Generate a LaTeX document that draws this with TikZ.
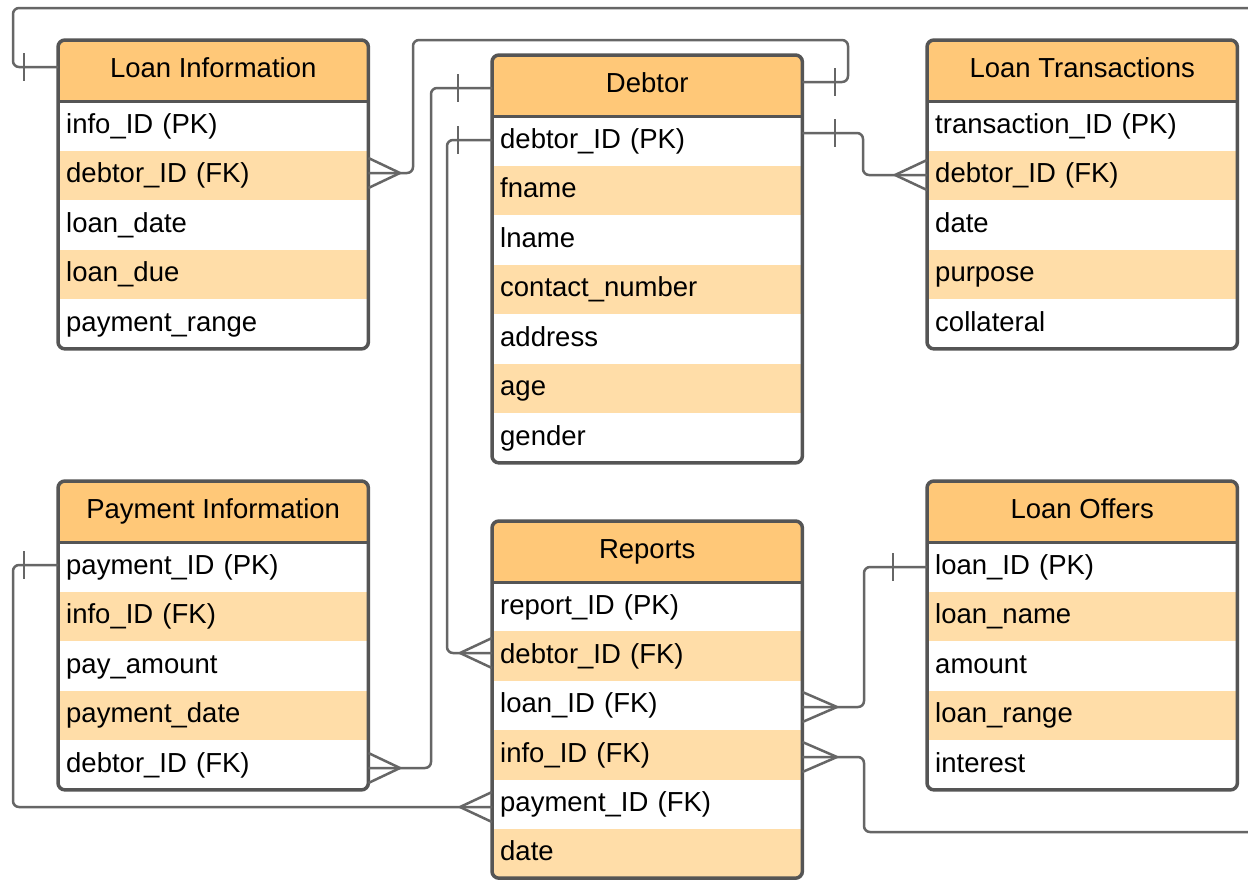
\documentclass[tikz,border=0pt]{standalone}
\usepackage{fontspec}
\setmainfont{Liberation Sans}
\usetikzlibrary{calc,backgrounds}
\definecolor{hdrc}{HTML}{FFC878}
\definecolor{rowlt}{HTML}{FFDDA8}
\definecolor{bordc}{HTML}{555555}
\definecolor{connc}{HTML}{666666}
\tikzset{
  hdr/.style={minimum width=310pt, minimum height=61pt, inner sep=0pt, text height=21pt, text depth=8pt, align=center, font=\fontsize{27.5}{33}\selectfont, text=black},
  rowbox/.style={minimum width=310pt, text width=294pt, inner xsep=8pt, inner ysep=0pt, text height=21pt, text depth=6pt, align=left, font=\fontsize{27.5}{33}\selectfont, text=black},
  border/.style={draw=bordc, line width=3.5pt},
  conn/.style={draw=connc, line width=2.5pt, rounded corners=6pt},
}
% #1 name, #2 left x, #3 top y, #4 row height, #5 title, #6 rows
\newcommand{\ertable}[6]{%
  \node[hdr, anchor=north west] (#1-h) at (#2,#3) {#5};
  \foreach \rowtext [count=\i] in {#6} {
    \pgfmathsetmacro\yy{#3+61+(\i-1)*#4}
    \node[rowbox, minimum height=#4pt, anchor=north west] (#1-\i) at (#2,\yy) {\rowtext};
    \xdef\nrows{\i}
  }
  \begin{pgfonlayer}{background}
    \begin{scope}
      \clip[rounded corners=7pt] (#1-h.north west) rectangle (#1-\nrows.south east);
      \fill[hdrc] (#1-h.north west) rectangle (#1-h.south east);
      \foreach \j in {1,...,\nrows} {\ifodd\j\else\fill[rowlt] (#1-\j.north west) rectangle (#1-\j.south east);\fi}
    \end{scope}
  \end{pgfonlayer}
  \draw[border, rounded corners=7pt] (#1-h.north west) rectangle (#1-\nrows.south east);
  \draw[border] (#1-h.south west) -- (#1-h.south east);
}
% crow's foot: #1 point on box edge, #2 apex
\newcommand{\crowfoot}[2]{\draw[conn, rounded corners=0pt] (#2) -- ($(#1)+(0,-15)$) (#2) -- ($(#1)+(0,15)$);}
% single bar at #1
\newcommand{\onebar}[1]{\draw[conn, rounded corners=0pt] ($(#1)+(0,-14)$) -- ($(#1)+(0,14)$);}

\begin{document}
\begin{tikzpicture}[x={(1pt,0pt)}, y={(0pt,-1pt)}]
\useasboundingbox (0,0) rectangle (1248,879);
\begin{pgfonlayer}{background}
  \fill[white] (0,0) rectangle (1248,879);
\end{pgfonlayer}
\clip (0,0) rectangle (1248,879);

\ertable{li}{58}{40}{49.5}{Loan Information}{info\_ID (PK), debtor\_ID (FK), loan\_date, loan\_due, payment\_range}
\ertable{deb}{492}{55}{49.5}{Debtor}{debtor\_ID (PK), fname, lname, contact\_number, address, age, gender}
\ertable{lt}{927}{40}{49.5}{Loan Transactions}{transaction\_ID (PK), debtor\_ID (FK), date, purpose, collateral}
\ertable{pi}{58}{481}{49.5}{Payment Information}{payment\_ID (PK), info\_ID (FK), pay\_amount, payment\_date, debtor\_ID (FK)}
\ertable{rep}{492}{521}{49.3}{Reports}{report\_ID (PK), debtor\_ID (FK), loan\_ID (FK), info\_ID (FK), payment\_ID (FK), date}
\ertable{lo}{927}{481}{49.5}{Loan Offers}{loan\_ID (PK), loan\_name, amount, loan\_range, interest}

% end points
\coordinate (e1) at (li-h.west |- 0,67);
\coordinate (e1bar) at (24,67);
\coordinate (e7) at (rep-4.east |- 0,757);
\coordinate (e7apex) at (837,757);

\coordinate (e2) at (li-2.east |- 0,173);
\coordinate (e2apex) at (400,173);
\coordinate (e2b) at (deb-h.east |- 0,82);
\coordinate (e2bar) at (835,82);

\coordinate (e3) at (deb-h.west |- 0,88);
\coordinate (e3bar) at (458,88);
\coordinate (e3b) at (pi-5.east |- 0,768);
\coordinate (e3apex) at (400,768);

\coordinate (e4) at (deb-1.west |- 0,140);
\coordinate (e4bar) at (458,140);
\coordinate (e4b) at (rep-2.west |- 0,653);
\coordinate (e4apex) at (460,653);

\coordinate (e5) at (deb-1.east |- 0,133);
\coordinate (e5bar) at (835,133);
\coordinate (e5b) at (lt-2.west |- 0,175);
\coordinate (e5apex) at (895,175);

\coordinate (e6) at (lo-1.west |- 0,567);
\coordinate (e6bar) at (893,567);
\coordinate (e6b) at (rep-3.east |- 0,707);
\coordinate (e6apex) at (837,707);

\coordinate (e8) at (pi-1.west |- 0,565);
\coordinate (e8bar) at (24,565);
\coordinate (e8b) at (rep-5.west |- 0,807);
\coordinate (e8apex) at (460,807);

% connectors
\draw[conn] (e1) -| (13,8) -| (1262,832) -| (864,757) -- (e7);
\onebar{e1bar} \crowfoot{e7}{e7apex}

\draw[conn] (e2) -| (413,40) -| (848,82) -- (e2b);
\crowfoot{e2}{e2apex} \onebar{e2bar}

\draw[conn] (e3) -| (431,768) -- (e3b);
\onebar{e3bar} \crowfoot{e3b}{e3apex}

\draw[conn] (e4) -| (447,653) -- (e4b);
\onebar{e4bar} \crowfoot{e4b}{e4apex}

\draw[conn] (e5) -| (863,175) -- (e5b);
\onebar{e5bar} \crowfoot{e5b}{e5apex}

\draw[conn] (e6) -| (864,707) -- (e6b);
\onebar{e6bar} \crowfoot{e6b}{e6apex}

\draw[conn] (e8) -| (13,807) -- (e8b);
\onebar{e8bar} \crowfoot{e8b}{e8apex}
\end{tikzpicture}
\end{document}
